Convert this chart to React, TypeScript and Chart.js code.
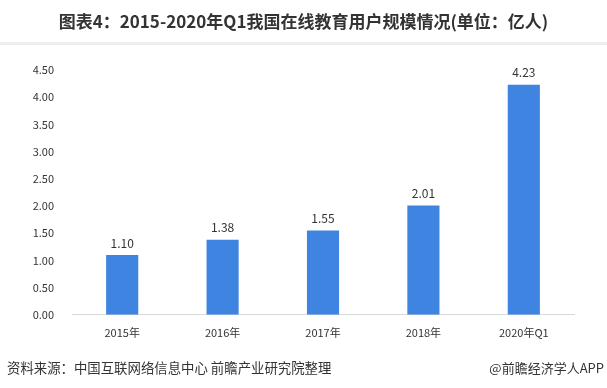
import React, { useEffect, useRef } from "react";
import { Chart, registerables } from "chart.js";

Chart.register(...registerables);

const categories = ["2015年", "2016年", "2017年", "2018年", "2020年Q1"];
const users = [1.1, 1.38, 1.55, 2.01, 4.23];
const titleText = "图表4：2015-2020年Q1我国在线教育用户规模情况(单位：亿人)";
const sourceText = "资料来源：中国互联网络信息中心 前瞻产业研究院整理";
const brandText = "@前瞻经济学人APP";

const FONT = '"Microsoft YaHei", "Noto Sans CJK SC", "Noto Sans", sans-serif';

const decorPlugin = {
  id: "decor",
  beforeDraw(chart: any) {
    const { ctx, width } = chart;
    ctx.save();
    ctx.fillStyle = "#ffffff";
    ctx.fillRect(0, 0, width, chart.height);
    ctx.fillStyle = "#eeeeee";
    ctx.fillRect(0, 42, width, 3);
    ctx.restore();
  },
  afterDraw(chart: any) {
    const { ctx, width } = chart;
    ctx.save();
    ctx.fillStyle = "#333333";
    ctx.font = `bold 17px ${FONT}`;
    ctx.textAlign = "center";
    ctx.textBaseline = "middle";
    ctx.fillText(titleText, width / 2, 22);
    ctx.font = `13.4px ${FONT}`;
    ctx.textAlign = "left";
    ctx.fillText(sourceText, 7, 368);
    ctx.font = `13px ${FONT}`;
    ctx.textAlign = "right";
    ctx.fillText(brandText, width - 3, 368);
    // value labels
    const meta = chart.getDatasetMeta(0);
    ctx.font = `12px ${FONT}`;
    ctx.textAlign = "center";
    ctx.textBaseline = "bottom";
    meta.data.forEach((bar: any, i: number) => {
      ctx.fillText(users[i].toFixed(2), bar.x, bar.y - 6);
    });
    ctx.restore();
  },
};

export default function App() {
  const ref = useRef<HTMLCanvasElement>(null);
  useEffect(() => {
    document.body.style.margin = "0";
    const chart = new Chart(ref.current!, {
      type: "bar",
      data: {
        labels: categories,
        datasets: [
          {
            data: users,
            backgroundColor: "#3f84e0",
            barPercentage: 0.32,
            categoryPercentage: 1,
          },
        ],
      },
      options: {
        animation: false,
        responsive: false,
        layout: { padding: { top: 70, right: 33, bottom: 46, left: 0 } },
        plugins: { legend: { display: false }, tooltip: { enabled: false } },
        scales: {
          x: {
            grid: { display: false },
            border: { display: true, color: "#d9d9d9" },
            ticks: { color: "#333", font: { family: FONT, size: 11 }, padding: 3 },
          },
          y: {
            min: 0,
            max: 4.5,
            grid: { display: false },
            border: { display: false },
            afterFit(scale: any) {
              scale.width = 72;
            },
            ticks: {
              stepSize: 0.5,
              color: "#333",
              padding: 10,
              font: { family: FONT, size: 11 },
              callback: (v: any) => Number(v).toFixed(2),
            },
          },
        },
      },
      plugins: [decorPlugin],
    });
    return () => chart.destroy();
  }, []);
  return <canvas ref={ref} width={607} height={388} style={{ display: "block" }} />;
}
